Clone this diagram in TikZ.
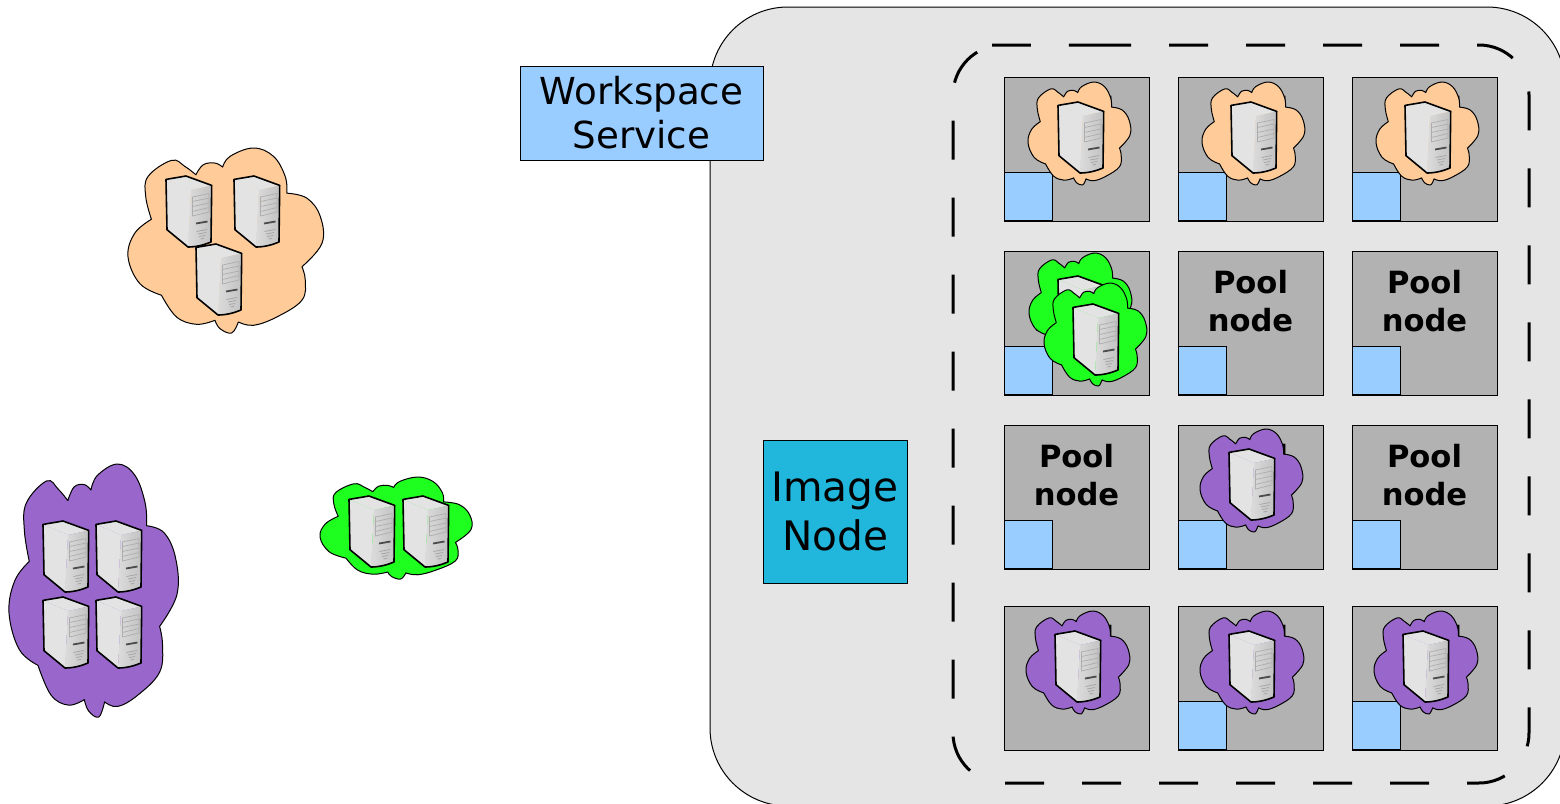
\documentclass[tikz,border=0pt]{standalone}
\usepackage{fontspec}
\setmainfont{DejaVu Sans}
\definecolor{panelgrey}{HTML}{E5E5E5}
\definecolor{poolgrey}{HTML}{B2B2B2}
\definecolor{svcblue}{HTML}{99CCFF}
\definecolor{imgblue}{HTML}{21B6DC}
\definecolor{orangec}{HTML}{FFCC99}
\definecolor{greenc}{HTML}{1FFF1F}
\definecolor{purplec}{HTML}{9966CC}
\tikzset{
  thinbox/.style={draw=black,line width=.5pt},
  poolbox/.style={thinbox,fill=poolgrey},
  bluebox/.style={thinbox,fill=svcblue},
  pooltext/.style={align=center,font=\fontsize{15.3}{19}\selectfont\bfseries,inner sep=0pt},
  serverpic/.pic={
    \fill[white!89!black] (0,3.4) -- (20,0) -- (45.7,9.4) -- (25,14) -- cycle;
    \fill[white!89!black] (0,3.4) -- (25,14) -- (22,71) -- (1,53.7) -- cycle;
    \shade[left color=white!86!black,right color=white!76!black] (25,14) -- (45.7,9.4) -- (45,66) .. controls (38,69) and (30,71) .. (22,71) -- cycle;
    \draw[white!68!black,line width=.35pt] (26.5,21) -- (43,17.5) -- (43,36) -- (26.5,40) -- cycle
      (26.5,25.5) -- (43,22) (26.5,30.5) -- (43,27) (26.5,35.5) -- (43,31.5);
    \draw[white!30!black,line width=.9pt] (30,47.5) -- (41.5,45.5);
    \draw[white!65!black,line width=.4pt] (30.5,55.5) -- (41,53.5) (32,58) -- (40,56.5) (33,60.5) -- (39,59.5) (34.5,63) -- (38,62.3);
    \draw[black,line width=.8pt,line join=round]
      (0,3.4) -- (20,0) -- (45.7,9.4) -- (45,66) .. controls (38,69) and (30,71) .. (22,71) -- (1,53.7) -- cycle;
  }
}
\newcommand{\cloudat}[5]{%
  \begin{scope}[shift={(#1,#2)},xscale=#3/580,yscale=#4/553,shift={(-25,-25)}]
    \filldraw[fill=#5,draw=black,line width=.5pt,line join=round]
      plot[smooth,tension=.65] coordinates {(95,238) (78,170) (85,110) (155,62) (195,80) (228,105)}
      -- plot[smooth,tension=.65] coordinates {(228,105) (250,75) (285,70) (308,82)}
      -- plot[smooth,tension=.65] coordinates {(308,82) (330,50) (400,25) (460,50) (495,110) (500,160)}
      -- plot[smooth,tension=.65] coordinates {(500,160) (560,175) (600,230) (605,310) (545,380)}
      -- plot[smooth,tension=.65] coordinates {(545,380) (555,420) (545,480) (470,530) (400,555) (355,545)}
      -- plot[smooth,tension=.65] coordinates {(355,545) (335,578) (300,565) (285,540)}
      -- plot[smooth,tension=.65] coordinates {(285,540) (230,552) (170,530) (125,465)}
      -- plot[smooth,tension=.65] coordinates {(125,465) (60,430) (25,350) (45,280) (95,238)}
      -- cycle;
  \end{scope}%
}
\newcommand{\poolnode}[3]{%
  \draw[poolbox] (#1,#2) rectangle ++(145,144);
  \node[pooltext] (#3) at (#1+72.5,#2+50) {Pool\\node};
  \draw[bluebox] (#1,#2+95) rectangle ++(48,48);
}
\newcommand{\poolnodenoblue}[3]{%
  \draw[poolbox] (#1,#2) rectangle ++(145,144);
  \node[pooltext] (#3) at (#1+72.5,#2+50) {Pool\\node};
}
\begin{document}
\begin{tikzpicture}[x=0.5pt,y=-0.5pt]
\clip (0,0) rectangle (1560,804);
\fill[white] (0,0) rectangle (1560,804);

% big panel
\filldraw[fill=panelgrey,draw=black,line width=.5pt,rounded corners=39pt] (710,7) rectangle (1565,806);

% left clouds
\cloudat{128}{148}{194}{185}{orangec}
\pic at (166,176) {serverpic};
\pic at (234,176) {serverpic};
\pic at (196,244) {serverpic};

\cloudat{9}{464}{168}{253}{purplec}
\pic at (43,521) {serverpic};
\pic at (96,521) {serverpic};
\pic at (43,597) {serverpic};
\pic at (96,597) {serverpic};

\cloudat{320}{477}{151}{102}{greenc}
\pic at (349,496) {serverpic};
\pic at (403,496) {serverpic};

% dashed pool
\draw[black,line width=1.5pt,dash pattern=on 19.5pt off 19pt,rounded corners=25pt]
  (1042,45) -- (1529,45) -- (1529,783) -- (953,783) -- (953,45) -- cycle;

% pool nodes
\poolnode{1004}{77}{p11}
\cloudat{1028}{82}{102}{103}{orangec}
\pic at (1058,102) {serverpic};
\poolnode{1178}{77}{p12}
\cloudat{1202}{82}{102}{103}{orangec}
\pic at (1231,102) {serverpic};
\poolnode{1352}{77}{p13}
\cloudat{1376}{82}{102}{103}{orangec}
\pic at (1405,102) {serverpic};

\poolnode{1004}{251}{p21}
\cloudat{1029}{253}{102}{103}{greenc}
\pic at (1058,276) {serverpic};
\cloudat{1044}{283}{102}{103}{greenc}
\pic at (1073,304) {serverpic};
\poolnode{1178}{251}{p22}
\poolnode{1352}{251}{p23}

\poolnode{1004}{425}{p31}
\poolnode{1178}{425}{p32}
\cloudat{1200}{429}{102}{103}{purplec}
\pic at (1229,449) {serverpic};
\poolnode{1352}{425}{p33}

\poolnodenoblue{1004}{606}{p41}
\cloudat{1026}{611}{103}{103}{purplec}
\pic at (1055,631) {serverpic};
\poolnode{1178}{606}{p42}
\cloudat{1200}{611}{103}{103}{purplec}
\pic at (1229,631) {serverpic};
\poolnode{1352}{606}{p43}
\cloudat{1374}{611}{103}{103}{purplec}
\pic at (1403,631) {serverpic};

% service boxes
\node[thinbox,fill=svcblue,minimum width=121.5pt,minimum height=47pt,inner sep=0pt,align=center,
  font=\fontsize{18.6}{22}\selectfont] (ws) at (641.5,113) {Workspace\\Service};
\node[thinbox,fill=imgblue,minimum width=72pt,minimum height=71.5pt,inner sep=0pt,align=center,
  font=\fontsize{20.3}{24.5}\selectfont] (img) at (835,511.5) {Image\\Node};
\end{tikzpicture}
\end{document}
